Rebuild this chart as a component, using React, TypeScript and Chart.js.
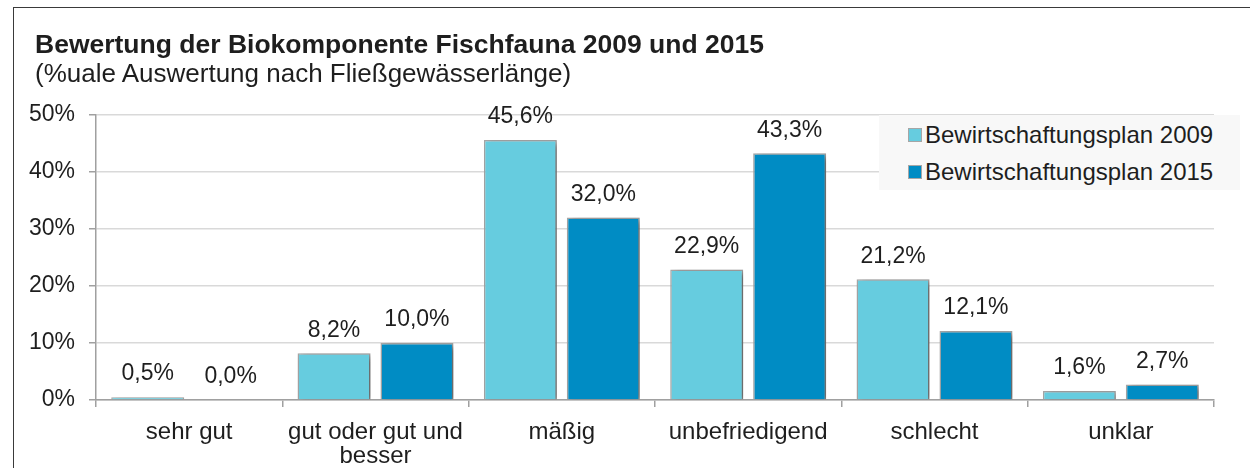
import React, { useEffect, useRef } from "react";
import { Chart, registerables } from "chart.js";

Chart.register(...registerables);

const categories: (string | string[])[] = [
  "sehr gut",
  ["gut oder gut und", "besser"],
  "mäßig",
  "unbefriedigend",
  "schlecht",
  "unklar",
];
const series2009Label = "Bewirtschaftungsplan 2009";
const series2015Label = "Bewirtschaftungsplan 2015";
const values2009 = [0.5, 8.2, 45.6, 22.9, 21.2, 1.6];
const values2015 = [0.0, 10.0, 32.0, 43.3, 12.1, 2.7];
const yTicks = [0, 10, 20, 30, 40, 50];

const COLOR_2009 = "#66CCDF";
const COLOR_2015 = "#008CC4";
const FONT = "'Liberation Sans', Arial, sans-serif";
const TEXT = "#1e1e1e";

const shadowPlugin = {
  id: "barShadow",
  beforeDatasetsDraw(chart: any) {
    const ctx = chart.ctx;
    ctx.save();
    ctx.shadowColor = "rgba(0,0,0,0.4)";
    ctx.shadowBlur = 6;
    ctx.shadowOffsetX = 4;
    ctx.shadowOffsetY = 2;
  },
  afterDatasetsDraw(chart: any) {
    chart.ctx.restore();
  },
};

const valueLabelPlugin = {
  id: "valueLabels",
  afterDatasetsDraw(chart: any) {
    const ctx = chart.ctx;
    ctx.save();
    ctx.font = `23px ${FONT}`;
    ctx.fillStyle = TEXT;
    ctx.textAlign = "center";
    ctx.textBaseline = "middle";
    chart.data.datasets.forEach((ds: any, di: number) => {
      const meta = chart.getDatasetMeta(di);
      meta.data.forEach((bar: any, i: number) => {
        const v = ds.data[i] as number;
        const txt = v.toFixed(1).replace(".", ",") + "%";
        ctx.fillText(txt, bar.x, bar.y - 23);
      });
    });
    ctx.restore();
  },
};

export default function App() {
  const canvasRef = useRef<HTMLCanvasElement | null>(null);

  useEffect(() => {
    if (!canvasRef.current) return;
    const chart = new Chart(canvasRef.current, {
      type: "bar",
      data: {
        labels: categories,
        datasets: [
          {
            label: series2009Label,
            data: values2009,
            backgroundColor: COLOR_2009,
            borderColor: "#a6a6a6",
            borderWidth: 1.5,
            categoryPercentage: 0.89,
            barPercentage: 0.88,
          },
          {
            label: series2015Label,
            data: values2015,
            backgroundColor: COLOR_2015,
            borderColor: "#a6a6a6",
            borderWidth: 1.5,
            categoryPercentage: 0.89,
            barPercentage: 0.88,
          },
        ],
      },
      options: {
        responsive: false,
        animation: false,
        layout: { padding: { top: 115, right: 36, left: 0, bottom: 0 } },
        plugins: {
          legend: { display: false },
          title: { display: false },
          tooltip: { enabled: false },
        },
        scales: {
          x: {
            grid: {
              offset: true,
              drawOnChartArea: false,
              tickLength: 7,
              tickColor: "#a0a0a0",
              lineWidth: 1.5,
            },
            border: { color: "#a0a0a0", width: 1.5 },
            ticks: {
              color: TEXT,
              font: { family: FONT, size: 24, lineHeight: 0.98 },
              padding: 14,
              maxRotation: 0,
              autoSkip: false,
            },
            afterFit(scale: any) {
              scale.height = 68;
            },
          },
          y: {
            min: 0,
            max: 50,
            afterBuildTicks(scale: any) {
              scale.ticks = yTicks.map((v) => ({ value: v }));
            },
            grid: {
              color: "#d9d9d9",
              lineWidth: 1.5,
              tickLength: 7,
              tickColor: "#a0a0a0",
            },
            border: { color: "#a0a0a0", width: 1.5 },
            ticks: {
              color: TEXT,
              font: { family: FONT, size: 23 },
              padding: 14,
              callback: (v: any) => `${v}%`,
            },
            afterFit(scale: any) {
              scale.width = 96;
            },
          },
        },
      },
      plugins: [shadowPlugin, valueLabelPlugin],
    });
    return () => chart.destroy();
  }, []);

  return (
    <div
      style={{
        position: "absolute",
        left: 0,
        top: 0,
        width: 1250,
        height: 468,
        background: "#fff",
        overflow: "hidden",
        fontFamily: FONT,
        color: TEXT,
      }}
    >
      <div
        style={{
          position: "absolute",
          left: 13,
          top: 7,
          width: 1250,
          height: 480,
          border: "1.5px solid #3a3a3a",
          boxSizing: "border-box",
        }}
      />
      <canvas
        ref={canvasRef}
        width={1250}
        height={468}
        style={{ position: "absolute", left: 0, top: 0 }}
      />
      <div
        style={{
          position: "absolute",
          left: 35,
          top: 31,
          fontSize: 26.5,
          lineHeight: "26px",
          fontWeight: "bold",
          whiteSpace: "nowrap",
        }}
      >
        Bewertung der Biokomponente Fischfauna 2009 und 2015
      </div>
      <div
        style={{
          position: "absolute",
          left: 35,
          top: 61,
          fontSize: 26,
          lineHeight: "25px",
          whiteSpace: "nowrap",
        }}
      >
        (%uale Auswertung nach Fließgewässerlänge)
      </div>
      <div
        style={{
          position: "absolute",
          left: 879,
          top: 115,
          width: 361,
          height: 75,
          background: "#f8f8f8",
          boxSizing: "border-box",
          paddingLeft: 29,
          paddingTop: 1,
        }}
      >
        {[
          { label: series2009Label, color: COLOR_2009 },
          { label: series2015Label, color: COLOR_2015 },
        ].map((it) => (
          <div
            key={it.label}
            style={{
              display: "flex",
              alignItems: "center",
              height: 37,
              fontSize: 24,
              whiteSpace: "nowrap",
            }}
          >
            <span
              style={{
                display: "inline-block",
                width: 14,
                height: 14,
                background: it.color,
                border: "1.5px solid #a6a6a6",
                boxSizing: "border-box",
                marginRight: 3,
              }}
            />
            {it.label}
          </div>
        ))}
      </div>
    </div>
  );
}
